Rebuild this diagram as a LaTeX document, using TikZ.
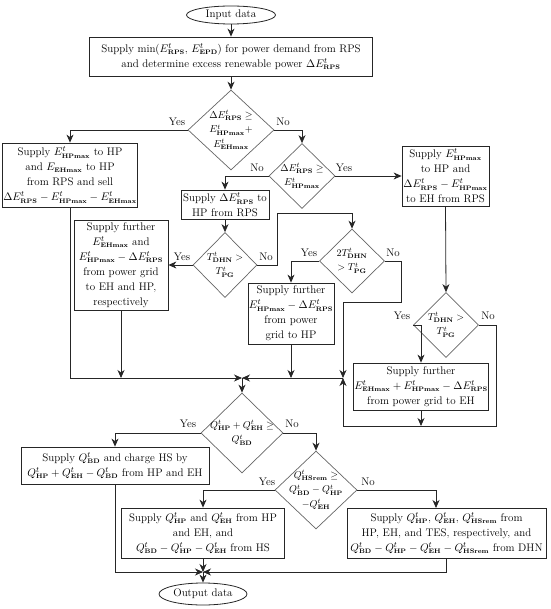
\documentclass[tikz,border=0pt]{standalone}
\usepackage{amsmath}
\usetikzlibrary{shapes.geometric,arrows.meta}
\newcommand\msub[1]{\text{\fontsize{6.5}{7}\selectfont\bfseries #1}}
\newcommand\mE[1]{E^{t}_{\msub{#1}}}
\newcommand\mQ[1]{Q^{t}_{\msub{#1}}}
\newcommand\mT[1]{T^{t}_{\msub{#1}}}
\begin{document}
\begin{tikzpicture}[x=1pt,y=-1pt,
  box/.style={draw=black!85, line width=0.8pt, align=center, inner sep=1pt, font=\fontsize{11}{15}\selectfont},
  bx/.style 2 args={box, minimum width=#1pt, minimum height=#2pt},
  dia/.style 2 args={draw=black!60, line width=0.7pt, diamond, inner sep=0pt, minimum width=#1pt, minimum height=#2pt},
  dtext/.style={align=center, inner sep=0pt, font=\fontsize{10}{14.5}\selectfont},
  term/.style 2 args={draw=black!85, line width=0.8pt, ellipse, inner sep=0pt, minimum width=#1pt, minimum height=#2pt, font=\fontsize{11}{13}\selectfont},
  lab/.style={font=\fontsize{11}{13}\selectfont, inner sep=0pt},
  arr/.style={line width=0.8pt, draw=black!85, -{Stealth[length=8pt,width=7pt,inset=2.5pt]}}]
\useasboundingbox (0,0) rectangle (550,609);

% terminals and boxes
\node[term={89}{18}] (in) at (231,15) {Input data};
\node[bx={283}{39}] (b1) at (231,56.5) {Supply min($\mE{RPS}$, $\mE{EPD}$) for power demand from RPS\\and determine excess renewable power $\Delta\mE{RPS}$};
\node[bx={126}{64}] (b2) at (70,175) {Supply $\mE{HPmax}$ to HP\\and $E_{\msub{EHmax}}$ to HP\\from RPS and sell\\$\Delta\mE{RPS}-\mE{HPmax}-\mE{EHmax}$};
\node[bx={87}{60}] (b3) at (445.5,176) {Supply $\mE{HPmax}$\\to HP and\\$\Delta\mE{RPS}-\mE{HPmax}$\\to EH from RPS};
\node[bx={88}{29}] (b4) at (225,204.5) {Supply $\Delta\mE{RPS}$ to\\HP from RPS};
\node[bx={94}{90}] (b5) at (121,265) {Supply further\\$\mE{EHmax}$ and\\$\mE{HPmax}-\Delta\mE{RPS}$\\from power grid\\to EH and HP,\\respectively};
\node[bx={84}{61}] (b6) at (291,313.5) {Supply further\\$\mE{HPmax}-\Delta\mE{RPS}$\\from power\\grid to HP};
\node[bx={128}{47}] (b7) at (421,386.5) {Supply further\\$\mE{EHmax}+\mE{HPmax}-\Delta\mE{RPS}$\\from power grid to EH};
\node[bx={188}{37}] (b8) at (115,465.5) {Supply $\mQ{BD}$ and charge HS by\\$\mQ{HP}+\mQ{EH}-\mQ{BD}$ from HP and EH};
\node[bx={163}{50}] (b9) at (203,533) {Supply $\mQ{HP}$ and $\mQ{EH}$ from HP\\and EH, and\\$\mQ{BD}-\mQ{HP}-\mQ{EH}$ from HS};
\node[bx={199}{50}] (b10) at (446.5,533) {Supply $\mQ{HP}$, $\mQ{EH}$, $\mQ{HSrem}$ from\\HP, EH, and TES, respectively, and\\$\mQ{BD}-\mQ{HP}-\mQ{EH}-\mQ{HSrem}$ from DHN};
\node[term={88}{22}] (out) at (203,594) {Output data};

% decisions
\node[dia={86}{80}] (d1) at (231,130) {};
\node[dtext] (d1t) at (d1.center) {$\Delta\mE{RPS}\ge$\\$\mE{HPmax}+$\\$\mE{EHmax}$};
\node[dia={66}{65}] (d2) at (302,176) {};
\node[dtext] (d2t) at (d2.center) {$\Delta\mE{RPS}\ge$\\$\mE{HPmax}$};
\node[dia={64}{65}] (d4) at (225,265) {};
\node[dtext] (d4t) at (d4.center) {$\mT{DHN}>$\\$\mT{PG}$};
\node[dia={65}{64}] (d3) at (352,261) {};
\node[dtext] (d3t) at (d3.center) {$2\mT{DHN}$\\$>\mT{PG}$};
\node[dia={65}{65}] (d5) at (446,325) {};
\node[dtext] (d5t) at (d5.center) {$\mT{DHN}>$\\$\mT{PG}$};
\node[dia={82}{80}] (d6) at (242,433) {};
\node[dtext] (d6t) at (d6.center) {$\mQ{HP}+\mQ{EH}\ge$\\$\mQ{BD}$};
\node[dia={82}{78}] (d7) at (316,490) {};
\node[dtext] (d7t) at (d7.center) {$\mQ{HSrem}\ge$\\$\mQ{BD}-\mQ{HP}$\\$-\mQ{EH}$};

% junctions
\coordinate (m1) at (242,378);
\coordinate (m2) at (343,378);
\coordinate (m4) at (203,572);
\coordinate (b10in) at (436,508);

% labels
\node[lab] (l1y) at (177,122) {Yes};
\node[lab] (l1n) at (283,122) {No};
\node[lab] (l2y) at (344,168) {Yes};
\node[lab] (l2n) at (257,168) {No};
\node[lab] (l4y) at (182,257) {Yes};
\node[lab] (l4n) at (266,257) {No};
\node[lab] (l3y) at (309,253) {Yes};
\node[lab] (l3n) at (393,253) {No};
\node[lab] (l5y) at (402,316) {Yes};
\node[lab] (l5n) at (488,316) {No};
\node[lab] (l6y) at (188,424) {Yes};
\node[lab] (l6n) at (292,424) {No};
\node[lab] (l7y) at (267,482) {Yes};
\node[lab] (l7n) at (368,482) {No};

% connectors
\draw[arr] (in) -- (b1);
\draw[arr] (b1) -- (d1);
\draw[arr] (d1.west) -| (b2.north);
\draw[arr] (d1.east) -| (d2.north);
\draw[arr] (d2.east) -- (b3.west);
\draw[arr] (d2.west) -| (b4.north);
\draw[arr] (b4) -- (d4);
\draw[arr] (d4.west) -- (b5.east);
\draw[arr] (d4.east) -| (277,213) -| (d3.north);
\draw[arr] (d3.west) -| (b6.north);
\draw[arr] (d3.east) -| (401,302) -| (m2);
\draw[arr] (b3.south) -- (d5.north);
\draw[arr] (d5.west) -| (b7.north);
\draw[arr] (d5.east) -| (496,426) -| (m2);
\draw[arr] (b7.south) -- (b7.south |- 0,426);
\draw[arr] (b2.south) |- (m1);
\draw[arr] (m2) -- (m1);
\draw[arr] (b5.south) -- (b5.south |- m1);
\draw[arr] (b6.south) -- (b6.south |- m1);
\draw[arr] (m1) -- (d6.north);
\draw[arr] (d6.west) -| (b8.north);
\draw[arr] (d6.east) -| (d7.north);
\draw[arr] (d7.west) -| (b9.north);
\draw[arr] (d7.east) -| (b10in);
\draw[arr] (b8.south) |- (m4);
\draw[arr] (b10.south) |- (m4);
\draw[arr] (b9.south) -- (m4);
\draw[arr] (m4) -- (out.north);
\end{tikzpicture}
\end{document}
